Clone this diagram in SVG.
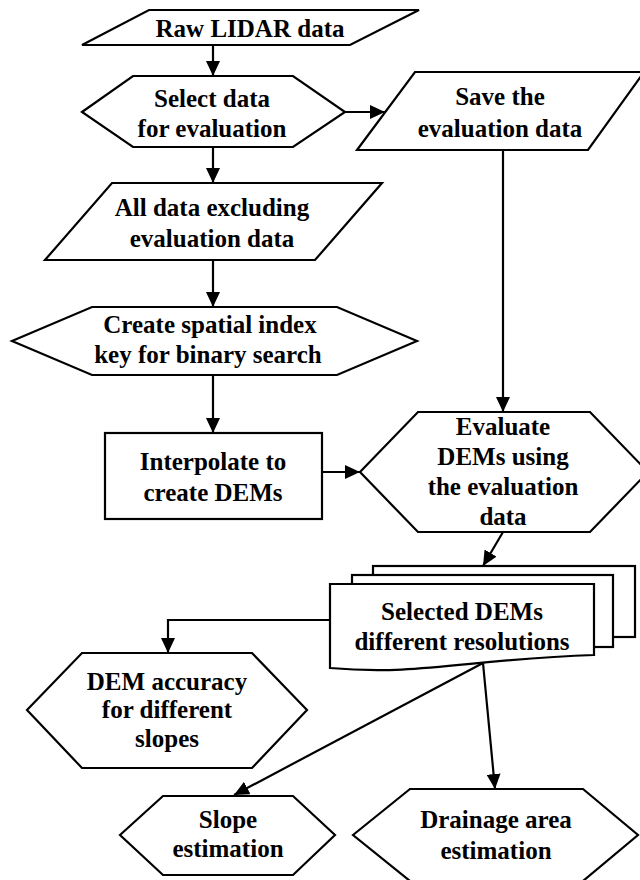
<svg xmlns="http://www.w3.org/2000/svg" width="640" height="880" viewBox="0 0 640 880">
<style>
.s{fill:#fff;stroke:#000;stroke-width:2.2;stroke-linejoin:miter}
.t{font-family:"Liberation Serif","Times New Roman",serif;font-weight:bold;font-size:25px;fill:#000;text-anchor:middle}
.c{fill:none;stroke:#000;stroke-width:2.2}
</style>
<defs>
<marker id="ah" viewBox="0 0 15 14" refX="15" refY="7" markerWidth="15" markerHeight="14" markerUnits="userSpaceOnUse" orient="auto">
<path d="M0,0 L15,7 L0,14 z" fill="#000"/>
</marker>
</defs>
<rect width="640" height="880" fill="#fff"/>
<g id="connectors">
<path class="c" d="M213,45 L213,76" marker-end="url(#ah)"/>
<path class="c" d="M345,112 L385,112" marker-end="url(#ah)"/>
<path class="c" d="M213,147 L213,183" marker-end="url(#ah)"/>
<path class="c" d="M213,260 L213,307" marker-end="url(#ah)"/>
<path class="c" d="M213,375 L213,433" marker-end="url(#ah)"/>
<path class="c" d="M503,150 L503,412" marker-end="url(#ah)"/>
<path class="c" d="M322,472 L360,472" marker-end="url(#ah)"/>
<path class="c" d="M503,532 L483,566" marker-end="url(#ah)"/>
<path class="c" d="M330,620 L168,620 L168,653" marker-end="url(#ah)"/>
<path class="c" d="M483,663 L234,795" marker-end="url(#ah)"/>
<path class="c" d="M483,663 L495,789" marker-end="url(#ah)"/>
</g>
<g id="raw">
<polygon class="s" points="149,10 419,10 350,45 82,45"/>
<text class="t" x="250" y="37">Raw LIDAR data</text>
</g>
<g id="select">
<polygon class="s" points="82,112 133,76 293,76 345,112 293,147 133,147"/>
<text class="t" x="212" y="107">Select data</text>
<text class="t" x="212" y="137">for evaluation</text>
</g>
<g id="save">
<polygon class="s" points="415,72 644,72 588,150 357,150"/>
<text class="t" x="500" y="105">Save the</text>
<text class="t" x="500" y="137">evaluation data</text>
</g>
<g id="alldata">
<polygon class="s" points="112,183 382,183 315,260 45,260"/>
<text class="t" x="212" y="216">All data excluding</text>
<text class="t" x="212" y="247">evaluation data</text>
</g>
<g id="create">
<polygon class="s" points="12,341 92,307 337,307 417,341 337,375 92,375"/>
<text class="t" x="210" y="333">Create spatial index</text>
<text class="t" x="208" y="363">key for binary search</text>
</g>
<g id="interpolate">
<rect class="s" x="105" y="433" width="217" height="86"/>
<text class="t" x="213" y="470">Interpolate to</text>
<text class="t" x="213" y="501">create DEMs</text>
</g>
<g id="evaluate">
<polygon class="s" points="360,472 418,412 590,412 648,472 590,532 418,532"/>
<text class="t" x="503" y="435">Evaluate</text>
<text class="t" x="503" y="465">DEMs using</text>
<text class="t" x="503" y="495">the evaluation</text>
<text class="t" x="503" y="525">data</text>
</g>
<g id="selected">
<rect class="s" x="373" y="566" width="262" height="71"/>
<rect class="s" x="352" y="575" width="261" height="72"/>
<path class="s" d="M330,584 L594,584 L594,655 C470,659 420,676 330,668 Z"/>
<text class="t" x="462" y="620">Selected DEMs</text>
<text class="t" x="462" y="650">different resolutions</text>
</g>
<g id="accuracy">
<polygon class="s" points="27,710 82,653 252,653 307,710 252,768 82,768"/>
<text class="t" x="167" y="690">DEM accuracy</text>
<text class="t" x="167" y="718">for different</text>
<text class="t" x="167" y="747">slopes</text>
</g>
<g id="slope">
<polygon class="s" points="120,835 163,796 293,796 335,835 293,875 163,875"/>
<text class="t" x="228" y="828">Slope</text>
<text class="t" x="228" y="857">estimation</text>
</g>
<g id="drainage">
<polygon class="s" points="353,835 410,789 583,789 638,835 583,881 410,881"/>
<text class="t" x="496" y="828">Drainage area</text>
<text class="t" x="496" y="859">estimation</text>
</g>
</svg>
